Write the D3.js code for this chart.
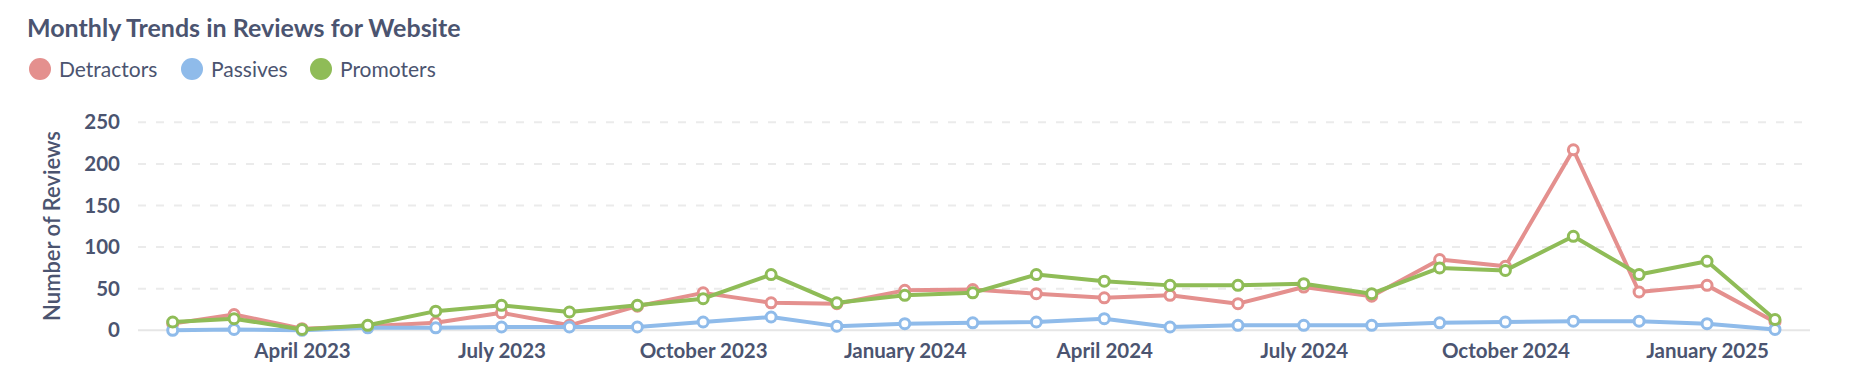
<!DOCTYPE html>
<html>
<head>
<meta charset="utf-8">
<script src="https://cdn.jsdelivr.net/npm/d3@7"></script>
<style>
  body { margin: 0; background: #fff; }
  svg { display: block; font-family: Lato, "Open Sans", sans-serif; }
</style>
</head>
<body>
<div id="chart"></div>
<script>
// data
var months = ["2023-02","2023-03","2023-04","2023-05","2023-06","2023-07","2023-08","2023-09","2023-10","2023-11","2023-12",
              "2024-01","2024-02","2024-03","2024-04","2024-05","2024-06","2024-07","2024-08","2024-09","2024-10","2024-11","2024-12",
              "2025-01","2025-02"];
var detractors = [8,19,2,5,9,21,6,29,45,33,32,48,49,44,39,42,32,52,41,85,77,217,46,54,10];
var passives   = [0,1,0,3,3,4,4,4,10,16,5,8,9,10,14,4,6,6,6,9,10,11,11,8,1];
var promoters  = [10,14,1,6,23,30,22,30,38,67,33,42,45,67,59,54,54,56,44,75,72,113,67,83,13];
var seriesNames = ["Detractors","Passives","Promoters"];
var seriesColors = ["#e4908e","#8fbbea","#8fbc57"];
var yTicks = [0,50,100,150,200,250];
var xTickMonths = ["2023-04","2023-07","2023-10","2024-01","2024-04","2024-07","2024-10","2025-01"];

var width = 1876, height = 388;
var textColor = "#4b5470";
var parse = d3.timeParse("%Y-%m");
var dates = months.map(parse);

var svg = d3.select("#chart").append("svg")
    .attr("width", width)
    .attr("height", height);

// title
svg.append("text")
    .attr("x", 27).attr("y", 37)
    .attr("fill", textColor)
    .style("font-size", "25px")
    .style("font-weight", 700)
    .text("Monthly Trends in Reviews for Website");

// legend
var legendX = [40, 192, 321];
var legend = svg.selectAll(".legend").data(seriesNames).enter()
    .append("g")
    .attr("transform", function(d, i) { return "translate(" + legendX[i] + ",69)"; });
legend.append("circle").attr("r", 11).attr("fill", function(d, i) { return seriesColors[i]; });
legend.append("text")
    .attr("x", 19).attr("y", 7.5)
    .attr("fill", textColor)
    .style("font-size", "21px")
    .text(function(d) { return d; });

// scales
var x = d3.scaleTime()
    .domain([dates[0], dates[dates.length - 1]])
    .range([172.7, 1775]);
var y = d3.scaleLinear()
    .domain([0, 250])
    .range([330.3, 122.3]);
var gridLeft = 138, gridRight = 1810;

// grid
svg.selectAll(".grid").data(yTicks.filter(function(d) { return d > 0; })).enter()
    .append("line")
    .attr("x1", gridLeft).attr("x2", gridRight)
    .attr("y1", function(d) { return y(d); })
    .attr("y2", function(d) { return y(d); })
    .attr("stroke", "#ebebeb")
    .attr("stroke-width", 2)
    .attr("stroke-dasharray", "8,10");
svg.append("line")
    .attr("x1", gridLeft).attr("x2", gridRight)
    .attr("y1", y(0)).attr("y2", y(0))
    .attr("stroke", "#e6e6e6")
    .attr("stroke-width", 2);

// y axis
var yAxis = svg.append("g")
    .attr("transform", "translate(120,0)")
    .call(d3.axisLeft(y).tickValues(yTicks).tickSize(0).tickPadding(0));
yAxis.select(".domain").remove();
yAxis.selectAll("text")
    .attr("fill", textColor)
    .style("font-family", "Lato")
    .style("font-size", "20.5px")
    .style("font-weight", 700);

// x axis
var xAxis = svg.append("g")
    .attr("transform", "translate(0,340)")
    .call(d3.axisBottom(x)
        .tickValues(xTickMonths.map(parse))
        .tickFormat(d3.timeFormat("%B %Y"))
        .tickSize(0).tickPadding(0));
xAxis.select(".domain").remove();
xAxis.selectAll("text")
    .attr("fill", textColor)
    .attr("dy", "0.9em")
    .style("font-family", "Lato")
    .style("font-size", "20.5px")
    .style("font-weight", 700);

// axis title
svg.append("text")
    .attr("transform", "translate(60,226) rotate(-90)")
    .attr("text-anchor", "middle")
    .attr("fill", textColor)
    .style("font-size", "22px")
    .style("font-weight", 600)
    .text("Number of Reviews");

// lines + markers
var allSeries = [detractors, passives, promoters];
var line = d3.line()
    .x(function(d, i) { return x(dates[i]); })
    .y(function(d) { return y(d); });

allSeries.forEach(function(vals, k) {
  svg.append("path")
      .datum(vals)
      .attr("d", line)
      .attr("fill", "none")
      .attr("stroke", seriesColors[k])
      .attr("stroke-width", 4)
      .attr("stroke-linejoin", "round");
  svg.selectAll(".pt" + k).data(vals).enter()
      .append("circle")
      .attr("cx", function(d, i) { return x(dates[i]); })
      .attr("cy", function(d) { return y(d); })
      .attr("r", 5)
      .attr("fill", "#fff")
      .attr("stroke", seriesColors[k])
      .attr("stroke-width", 3);
});
</script>
</body>
</html>
